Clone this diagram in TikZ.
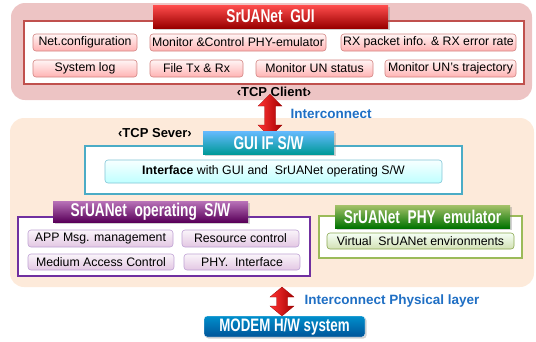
\documentclass[tikz,border=0pt]{standalone}
\usepackage{fontspec}
\setmainfont{Liberation Sans}
\newfontfamily\titlefont[FakeStretch=0.74]{Liberation Sans Bold}
\usetikzlibrary{shadows}

\definecolor{guipanel}{HTML}{EDC4C4}
\definecolor{guiline}{HTML}{C0504D}
\definecolor{srvpanel}{HTML}{FDEADA}
\definecolor{ifline}{HTML}{4BACC6}
\definecolor{opline}{HTML}{7030A0}
\definecolor{emline}{HTML}{9BBB59}
\definecolor{linkblue}{HTML}{1F6FC4}

\tikzset{
  panel/.style={rounded corners=14pt},
  inframe/.style={fill=white, line width=1.4pt},
  titlebar/.style={inner sep=0pt, text=white,
    font=\titlefont\fontsize{18.5}{20}\selectfont,
    drop shadow={shadow xshift=1.5pt, shadow yshift=-1.5pt, opacity=.35}},
  item/.style={rounded corners=3pt, inner sep=0pt, line width=.6pt,
    font=\fontsize{12.3}{14}\selectfont},
  pinkitem/.style={item, draw=guiline!70, top color=red!4, bottom color=red!30!white},
  cyanitem/.style={item, draw=ifline!70, top color=cyan!3, bottom color=cyan!25!white},
  violetitem/.style={item, draw=opline!45, top color=violet!4, bottom color=violet!22!white},
  greenitem/.style={item, draw=emline!90!black, top color=green!4!white, bottom color=emline!45!white},
  tcptag/.style={font=\bfseries\fontsize{13}{15}\selectfont},
  linktext/.style={anchor=west, text=linkblue, font=\bfseries\fontsize{13.5}{15}\selectfont},
  fatarrow/.style={left color=red!80!white, right color=red!65!black, draw=red!60!black, line width=.3pt}
}

\begin{document}
\begin{tikzpicture}[x=1pt, y=-1pt]
  \useasboundingbox (0,0) rectangle (536,341);

  % GUI client side
  \fill[panel, guipanel] (11,3) rectangle (532,100);
  \draw[inframe, draw=guiline] (24,21) rectangle (524,84);
  \node[titlebar, minimum width=235, minimum height=23, top color=red!70!white, bottom color=red!60!black]
    (gui) at (270.5,16.5) {SrUANet\ \ GUI};

  \node[pinkitem, minimum width=104, minimum height=17] (netcfg) at (85,42.5) {Net.configuration};
  \node[pinkitem, minimum width=176, minimum height=17] (monctl) at (238,42.5) {Monitor \&Control PHY-emulator};
  \node[pinkitem, minimum width=175, minimum height=17] (rxinfo) at (428.5,42.5) {RX packet info. \& RX error rate};
  \node[pinkitem, minimum width=104, minimum height=17] (syslog) at (85,68.5) {System log};
  \node[pinkitem, minimum width=93, minimum height=17] (filetx) at (196.5,68.5) {File Tx \& Rx};
  \node[pinkitem, minimum width=117, minimum height=17] (unstat) at (314.5,68.5) {Monitor UN status};
  \node[pinkitem, minimum width=131, minimum height=17] (untraj) at (450.5,68.5) {Monitor UN’s trajectory};

  \node[tcptag] (client) at (274,92) {‹TCP Client›};

  % server side
  \fill[panel, srvpanel] (10,118) rectangle (534,287);

  \shade[fatarrow] (270,94) -- (282,106) -- (275.5,106) -- (275.5,125) -- (282,125) -- (270,137)
    -- (258,125) -- (264.5,125) -- (264.5,106) -- (258,106) -- cycle;
  \node[linktext] (linklbl) at (287,114) {Interconnect};

  \node[tcptag] (server) at (155,133) {‹TCP Sever›};
  \draw[inframe, draw=ifline] (85,146) rectangle (462,194);
  \node[titlebar, minimum width=131, minimum height=23, top color=cyan!55!blue!60!white, bottom color=cyan!60!black]
    (guiif) at (268.5,142.5) {GUI IF S/W};
  \node[cyanitem, minimum width=337, minimum height=23] (iface) at (273.5,171.5)
    {\textbf{Interface} with GUI and\ \ SrUANet operating S/W};

  \draw[inframe, draw=opline] (18,217) rectangle (310,276);
  \node[titlebar, minimum width=195, minimum height=21, top color=violet!55!white, bottom color=violet!70!black]
    (opsw) at (150.5,211.5) {SrUANet\ \ operating\ \ S/W};
  \node[violetitem, minimum width=145, minimum height=17] (appmsg) at (100.5,238.5) {APP Msg. management};
  \node[violetitem, minimum width=117, minimum height=17] (resctl) at (240.5,238.5) {Resource control};
  \node[violetitem, minimum width=146, minimum height=16] (mac) at (101,262) {Medium Access Control};
  \node[violetitem, minimum width=116, minimum height=16] (phyif) at (242,262) {PHY.\ \ Interface};

  \draw[inframe, draw=emline] (319,216) rectangle (522,258);
  \node[titlebar, minimum width=175, minimum height=23, top color=emline!90!white, bottom color=green!45!black]
    (phyemu) at (422.5,216.5) {SrUANet\ \ PHY\ \ emulator};
  \node[greenitem, minimum width=187, minimum height=16] (virt) at (420.5,241) {Virtual\ \ SrUANet environments};

  % modem
  \shade[fatarrow] (282,287) -- (294,297) -- (287.5,297) -- (287.5,306) -- (294,306) -- (282,316)
    -- (270,306) -- (276.5,306) -- (276.5,297) -- (270,297) -- cycle;
  \node[linktext] (phylbl) at (301,301) {Interconnect Physical layer};
  \node[titlebar, rounded corners=3pt, draw=white, minimum width=161, minimum height=21,
    top color=blue!30!cyan!80!black, bottom color=blue!45!cyan!60!black,
    font=\titlefont\fontsize{18}{19}\selectfont]
    (modem) at (284.5,326.5) {MODEM H/W system};
\end{tikzpicture}
\end{document}
